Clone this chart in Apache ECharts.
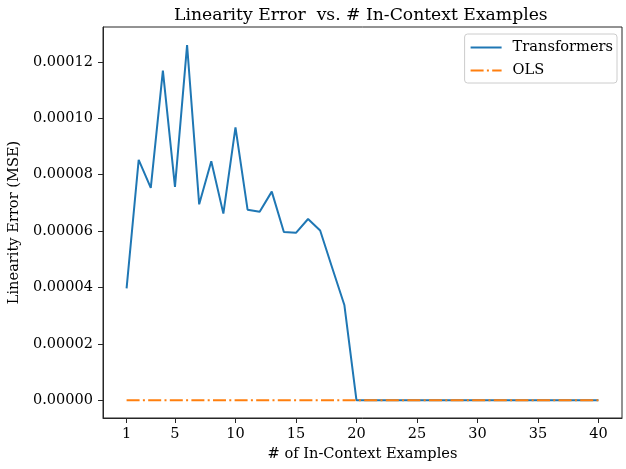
<!DOCTYPE html>
<html>
<head>
<meta charset="utf-8">
<script src="https://cdn.jsdelivr.net/npm/echarts@6/dist/echarts.min.js"></script>
<style>
  html, body { margin: 0; padding: 0; background: #fff; }
  #chart { width: 626px; height: 469px; }
</style>
</head>
<body>
<div id="chart"></div>
<script>
// 数据
const examples = [1, 2, 3, 4, 5, 6, 7, 8, 9, 10, 11, 12, 13, 14, 15, 16, 17, 18, 19, 20,
  21, 22, 23, 24, 25, 26, 27, 28, 29, 30, 31, 32, 33, 34, 35, 36, 37, 38, 39, 40]
const transformers = [0.0000397, 0.0000853, 0.0000753, 0.0001169, 0.0000757, 0.0001260, 0.0000695, 0.0000848,
  0.0000662, 0.0000968, 0.0000676, 0.0000669, 0.0000740, 0.0000597, 0.0000594, 0.0000643, 0.0000602,
  0.0000469, 0.0000338, 0.0000000,
  0, 0, 0, 0, 0, 0, 0, 0, 0, 0, 0, 0, 0, 0, 0, 0, 0, 0, 0, 0]
const ols = [0, 0, 0, 0, 0, 0, 0, 0, 0, 0, 0, 0, 0, 0, 0, 0, 0, 0, 0, 0,
  0, 0, 0, 0, 0, 0, 0, 0, 0, 0, 0, 0, 0, 0, 0, 0, 0, 0, 0, 0]
const xTicks = [1, 5, 10, 15, 20, 25, 30, 35, 40]
const yTicks = [0, 0.00002, 0.00004, 0.00006, 0.00008, 0.0001, 0.00012]

const font = 'DejaVu Serif'
const axisColor = '#262626'

const myChart = echarts.init(document.getElementById('chart'))
myChart.setOption({
  animation: false,
  title: {
    text: 'Linearity Error  vs. # In-Context Examples',
    left: 169,
    top: 2,
    textStyle: { fontFamily: font, fontSize: 17.2, fontWeight: 'normal', color: '#000' }
  },
  legend: {
    right: 9,
    top: 34,
    orient: 'vertical',
    itemWidth: 31,
    itemHeight: 12,
    itemGap: 8,
    padding: [6, 4, 5, 5],
    borderColor: '#cccccc',
    borderWidth: 1,
    borderRadius: 3,
    itemStyle: { opacity: 0 },
    textStyle: { fontFamily: font, fontSize: 14.6, color: '#000', padding: [0, 0, 0, 6] },
    data: ['Transformers', 'OLS']
  },
  grid: {
    left: 103,
    right: 4,
    top: 27,
    bottom: 51,
    outerBoundsMode: 'none',
    containLabel: false,
    show: true,
    borderColor: axisColor,
    borderWidth: 1
  },
  xAxis: {
    type: 'value',
    min: -0.95,
    max: 41.95,
    name: '# of In-Context Examples',
    nameLocation: 'middle',
    nameGap: 27,
    nameTextStyle: { fontFamily: font, fontSize: 14.6, color: '#000' },
    axisLine: { show: true, onZero: false, lineStyle: { color: axisColor } },
    axisTick: { show: true, length: 5, customValues: xTicks, lineStyle: { color: axisColor } },
    axisLabel: {
      customValues: xTicks,
      fontFamily: font, fontSize: 14.5, color: '#000', margin: 9
    },
    splitLine: { show: false }
  },
  yAxis: {
    type: 'value',
    min: -0.0000063,
    max: 0.0001324,
    name: 'Linearity Error (MSE)',
    nameLocation: 'middle',
    nameGap: 77,
    nameTextStyle: { fontFamily: font, fontSize: 14.6, color: '#000' },
    axisLine: { show: true, onZero: false, lineStyle: { color: axisColor } },
    axisTick: { show: true, length: 5, customValues: yTicks, lineStyle: { color: axisColor } },
    axisLabel: {
      customValues: yTicks,
      formatter: v => v.toFixed(5),
      fontFamily: font, fontSize: 14.5, color: '#000', margin: 10
    },
    splitLine: { show: false }
  },
  series: [
    {
      name: 'Transformers',
      type: 'line',
      data: examples.map((x, i) => [x, transformers[i]]),
      symbol: 'none',
      color: '#1f77b4',
      lineStyle: { color: '#1f77b4', width: 2 }
    },
    {
      name: 'OLS',
      type: 'line',
      data: examples.map((x, i) => [x, ols[i]]),
      symbol: 'none',
      color: '#ff7f0e',
      lineStyle: { color: '#ff7f0e', width: 2, type: [13, 3.3, 2, 3.3] }
    }
  ]
})
</script>
</body>
</html>
